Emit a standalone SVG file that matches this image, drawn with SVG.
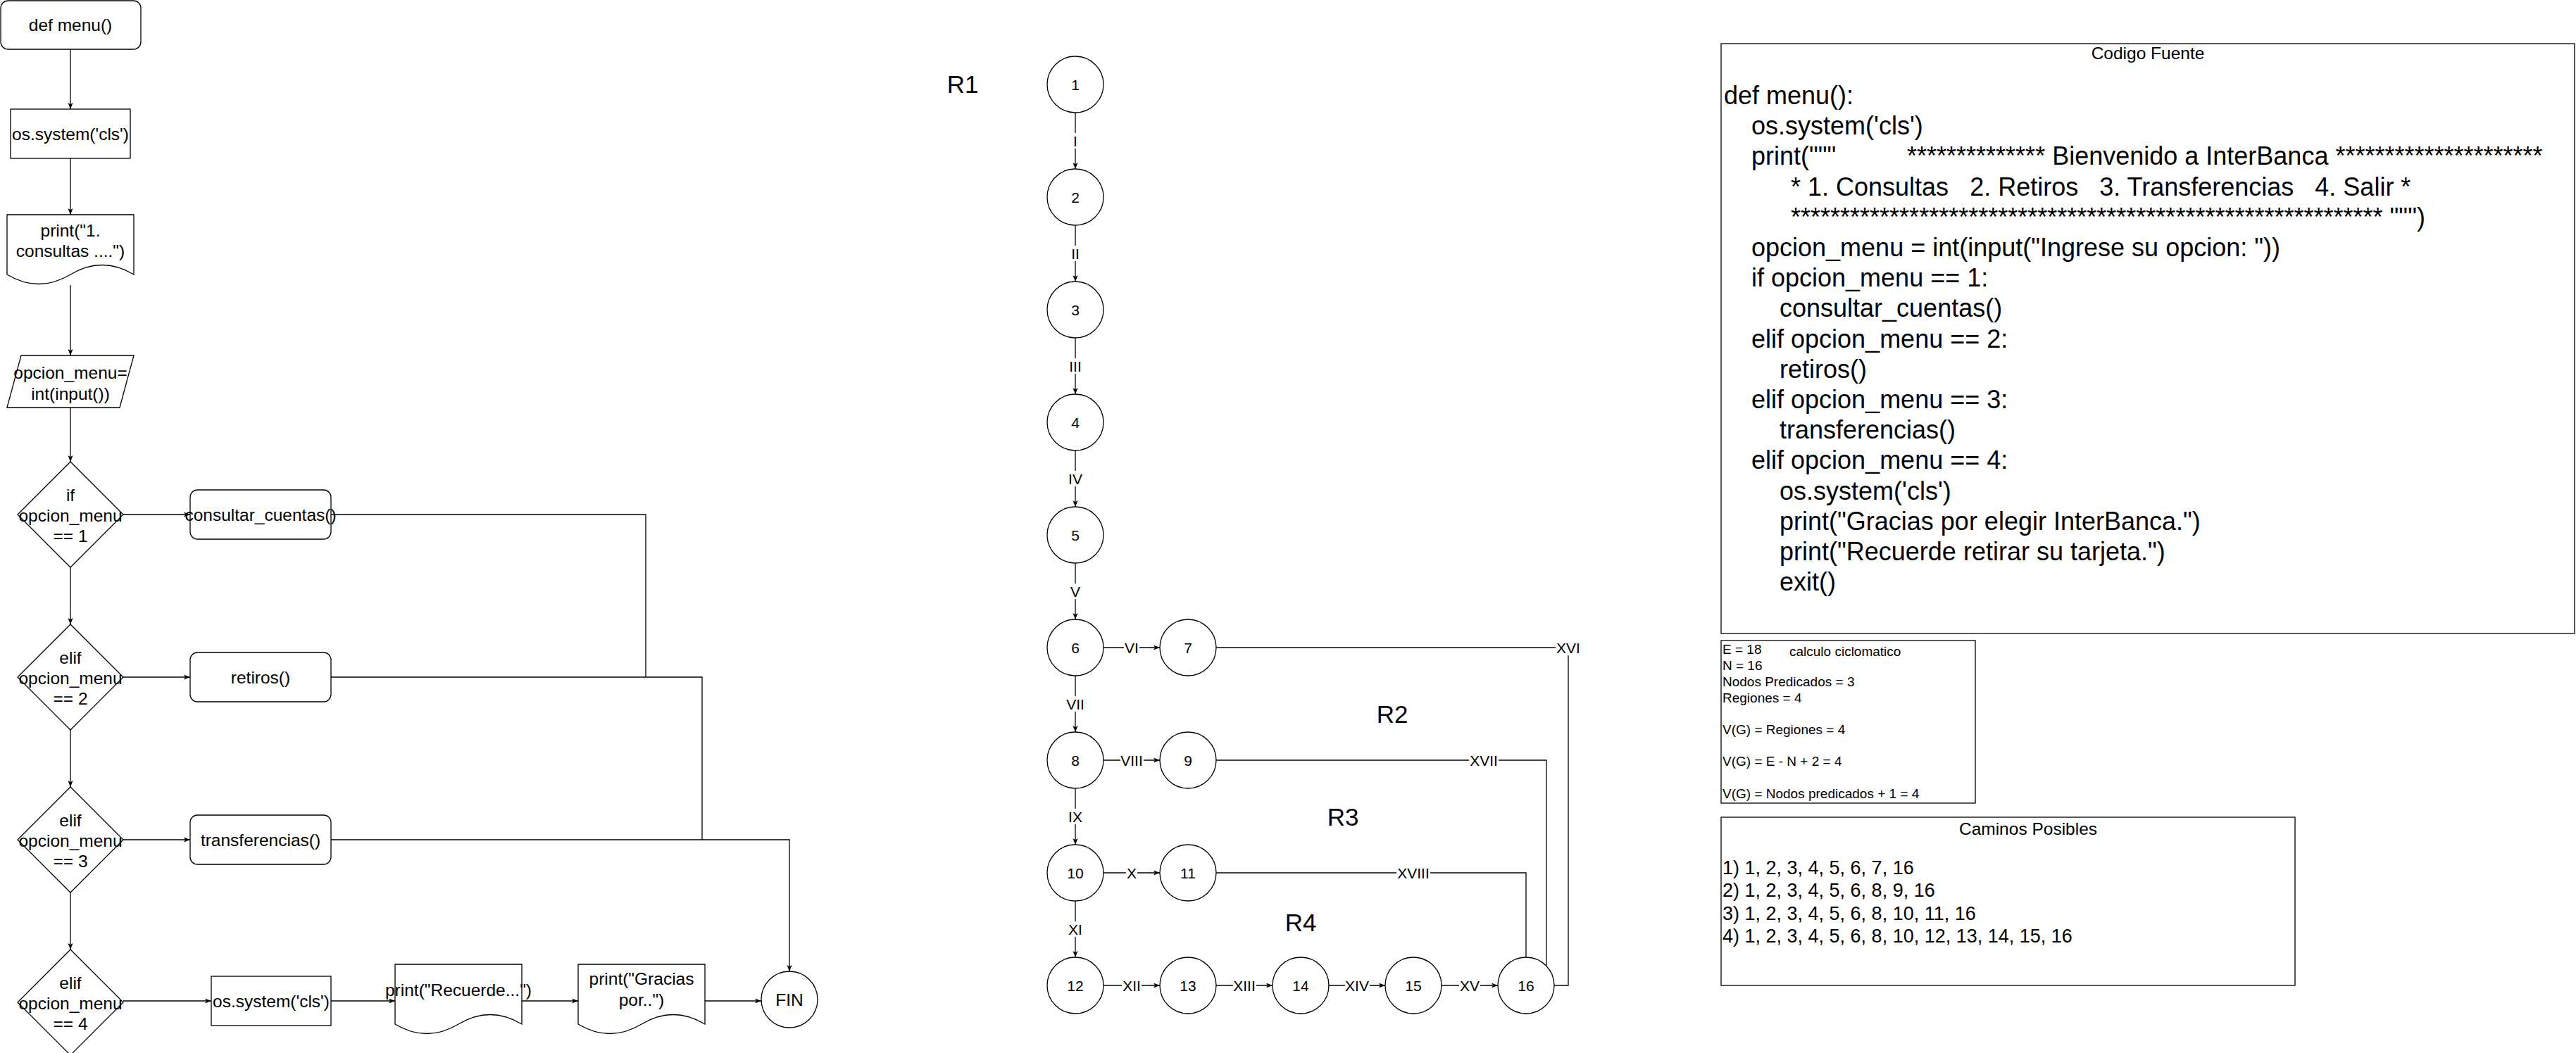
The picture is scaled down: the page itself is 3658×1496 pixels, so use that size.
<svg xmlns="http://www.w3.org/2000/svg" width="3658" height="1496" viewBox="0 0 3658 1496">
<style>
text{font-family:"Liberation Sans",Arial,sans-serif;fill:#000}
.sh{fill:#fff;stroke:#000;stroke-width:1.3}
.ln{fill:none;stroke:#000;stroke-width:1.3}
.f{font-size:24.5px;text-anchor:middle}
.g{font-size:21px;text-anchor:middle}
.r{font-size:35px;text-anchor:middle}
.code{font-size:36px}
.cy{font-size:19px}
.cam{font-size:27px}
.lb{fill:#fff;stroke:none}
</style>
<defs>
<marker id="arr" viewBox="0 0 10 8" refX="10" refY="4" markerWidth="9" markerHeight="8" markerUnits="userSpaceOnUse" orient="auto"><path d="M0,0 L10,4 L0,8 L2.5,4 z" fill="#000"/></marker>
</defs>
<rect width="3658" height="1496" fill="#fff"/>

<g id="connectors">
<path class="ln" marker-end="url(#arr)" d="M100,70 V155"/>
<path class="ln" marker-end="url(#arr)" d="M100,225 V305"/>
<path class="ln" marker-end="url(#arr)" d="M100,405 V505"/>
<path class="ln" marker-end="url(#arr)" d="M100,579 V656"/>
<path class="ln" marker-end="url(#arr)" d="M100,805 V887"/>
<path class="ln" marker-end="url(#arr)" d="M100,1036 V1118"/>
<path class="ln" marker-end="url(#arr)" d="M100,1268 V1349"/>
<path class="ln" marker-end="url(#arr)" d="M175,731 H270"/>
<path class="ln" marker-end="url(#arr)" d="M175,962 H270"/>
<path class="ln" marker-end="url(#arr)" d="M175,1193 H270"/>
<path class="ln" marker-end="url(#arr)" d="M175,1422 H300"/>
<path class="ln" marker-end="url(#arr)" d="M470,1422 H561"/>
<path class="ln" marker-end="url(#arr)" d="M741,1422 H821"/>
<path class="ln" marker-end="url(#arr)" d="M1001,1422 H1081"/>
<path class="ln" d="M470,731 H917 V962"/>
<path class="ln" d="M470,962 H997 V1193"/>
<path class="ln" marker-end="url(#arr)" d="M470,1193 H1121 V1380"/>

<path class="ln" marker-end="url(#arr)" d="M1527,160 V240"/>
<path class="ln" marker-end="url(#arr)" d="M1527,320 V400"/>
<path class="ln" marker-end="url(#arr)" d="M1527,480 V560"/>
<path class="ln" marker-end="url(#arr)" d="M1527,640 V720"/>
<path class="ln" marker-end="url(#arr)" d="M1527,800 V880"/>
<path class="ln" marker-end="url(#arr)" d="M1527,960 V1040"/>
<path class="ln" marker-end="url(#arr)" d="M1527,1120 V1200"/>
<path class="ln" marker-end="url(#arr)" d="M1527,1280 V1360"/>
<path class="ln" marker-end="url(#arr)" d="M1567,920 H1647"/>
<path class="ln" marker-end="url(#arr)" d="M1567,1080 H1647"/>
<path class="ln" marker-end="url(#arr)" d="M1567,1240 H1647"/>
<path class="ln" marker-end="url(#arr)" d="M1567,1400 H1647"/>
<path class="ln" marker-end="url(#arr)" d="M1727,1400 H1807"/>
<path class="ln" marker-end="url(#arr)" d="M1887,1400 H1967"/>
<path class="ln" marker-end="url(#arr)" d="M2047,1400 H2127"/>
<path class="ln" d="M1727,920 H2227 V1400 H2207"/>
<path class="ln" d="M1727,1080 H2196 V1372"/>
<path class="ln" d="M1727,1240 H2167 V1360"/>

<g id="edge-labels">
<rect class="lb" x="1523" y="189" width="8" height="22"/><text class="g" x="1527" y="207.5">I</text>
<rect class="lb" x="1520" y="349" width="14" height="22"/><text class="g" x="1527" y="367.5">II</text>
<rect class="lb" x="1517" y="509" width="20" height="22"/><text class="g" x="1527" y="527.5">III</text>
<rect class="lb" x="1516" y="669" width="22" height="22"/><text class="g" x="1527" y="687.5">IV</text>
<rect class="lb" x="1519" y="829" width="16" height="22"/><text class="g" x="1527" y="847.5">V</text>
<rect class="lb" x="1513" y="989" width="28" height="22"/><text class="g" x="1527" y="1007.5">VII</text>
<rect class="lb" x="1516" y="1149" width="22" height="22"/><text class="g" x="1527" y="1167.5">IX</text>
<rect class="lb" x="1516" y="1309" width="22" height="22"/><text class="g" x="1527" y="1327.5">XI</text>
<rect class="lb" x="1596" y="909" width="22" height="22"/><text class="g" x="1607" y="927.5">VI</text>
<rect class="lb" x="1591" y="1069" width="33" height="22"/><text class="g" x="1607" y="1087.5">VIII</text>
<rect class="lb" x="1599" y="1229" width="16" height="22"/><text class="g" x="1607" y="1247.5">X</text>
<rect class="lb" x="1593" y="1389" width="28" height="22"/><text class="g" x="1607" y="1407.5">XII</text>
<rect class="lb" x="1751" y="1389" width="33" height="22"/><text class="g" x="1767" y="1407.5">XIII</text>
<rect class="lb" x="1910" y="1389" width="35" height="22"/><text class="g" x="1927" y="1407.5">XIV</text>
<rect class="lb" x="2072" y="1389" width="30" height="22"/><text class="g" x="2087" y="1407.5">XV</text>
<rect class="lb" x="2209" y="909" width="36" height="22"/><text class="g" x="2227" y="927.5">XVI</text>
<rect class="lb" x="2086" y="1069" width="42" height="22"/><text class="g" x="2107" y="1087.5">XVII</text>
<rect class="lb" x="1983" y="1229" width="48" height="22"/><text class="g" x="2007" y="1247.5">XVIII</text>
</g>
</g>

<g id="def-menu"><rect class="sh" x="1" y="1" width="199" height="69" rx="10.5"/><text class="f" x="100" y="44">def menu()</text></g>
<g id="os-system-1"><rect class="sh" x="15" y="155" width="170" height="70"/><text class="f" x="100" y="199">os.system('cls')</text></g>
<g id="print-menu"><path class="sh" d="M10,305 H190 V390 Q145,363 100,390 Q55,417 10,390 Z"/><text class="f" x="100" y="336">print("1.</text><text class="f" x="100" y="365">consultas ....")</text></g>
<g id="input-opcion"><path class="sh" d="M30,505 H190 L170,579 H10 Z"/><text class="f" x="100" y="538">opcion_menu=</text><text class="f" x="100" y="568">int(input())</text></g>
<g id="if1"><path class="sh" d="M100,656 L175,731 L100,806 L25,731 Z"/><text class="f" x="100" y="712">if</text><text class="f" x="100" y="741">opcion_menu</text><text class="f" x="100" y="770">== 1</text></g>
<g id="if2"><path class="sh" d="M100,887 L175,962 L100,1037 L25,962 Z"/><text class="f" x="100" y="943">elif</text><text class="f" x="100" y="972">opcion_menu</text><text class="f" x="100" y="1001">== 2</text></g>
<g id="if3"><path class="sh" d="M100,1118 L175,1193 L100,1268 L25,1193 Z"/><text class="f" x="100" y="1174">elif</text><text class="f" x="100" y="1203">opcion_menu</text><text class="f" x="100" y="1232">== 3</text></g>
<g id="if4"><path class="sh" d="M100,1349 L175,1424 L100,1499 L25,1424 Z"/><text class="f" x="100" y="1405">elif</text><text class="f" x="100" y="1434">opcion_menu</text><text class="f" x="100" y="1463">== 4</text></g>
<g id="consultar"><rect class="sh" x="270" y="696" width="200" height="70" rx="10.5"/><text class="f" x="370" y="740">consultar_cuentas()</text></g>
<g id="retiros"><rect class="sh" x="270" y="927" width="200" height="70" rx="10.5"/><text class="f" x="370" y="971">retiros()</text></g>
<g id="transferencias"><rect class="sh" x="270" y="1158" width="200" height="70" rx="10.5"/><text class="f" x="370" y="1202">transferencias()</text></g>
<g id="os-system-2"><rect class="sh" x="300" y="1387" width="170" height="70"/><text class="f" x="385" y="1431">os.system('cls')</text></g>
<g id="print-recuerde"><path class="sh" d="M561,1370 H741 V1455 Q696,1428 651,1455 Q606,1482 561,1455 Z"/><text class="f" x="651" y="1415">print("Recuerde...")</text></g>
<g id="print-gracias"><path class="sh" d="M821,1370 H1001 V1455 Q956,1428 911,1455 Q866,1482 821,1455 Z"/><text class="f" x="911" y="1399">print("Gracias</text><text class="f" x="911" y="1429">por..")</text></g>
<g id="fin"><circle class="sh" cx="1121" cy="1420" r="40"/><text class="f" x="1121" y="1429">FIN</text></g>

<g id="n1"><circle class="sh" cx="1527" cy="120" r="40"/><text class="g" x="1527" y="127.5">1</text></g>
<g id="n2"><circle class="sh" cx="1527" cy="280" r="40"/><text class="g" x="1527" y="287.5">2</text></g>
<g id="n3"><circle class="sh" cx="1527" cy="440" r="40"/><text class="g" x="1527" y="447.5">3</text></g>
<g id="n4"><circle class="sh" cx="1527" cy="600" r="40"/><text class="g" x="1527" y="607.5">4</text></g>
<g id="n5"><circle class="sh" cx="1527" cy="760" r="40"/><text class="g" x="1527" y="767.5">5</text></g>
<g id="n6"><circle class="sh" cx="1527" cy="920" r="40"/><text class="g" x="1527" y="927.5">6</text></g>
<g id="n7"><circle class="sh" cx="1687" cy="920" r="40"/><text class="g" x="1687" y="927.5">7</text></g>
<g id="n8"><circle class="sh" cx="1527" cy="1080" r="40"/><text class="g" x="1527" y="1087.5">8</text></g>
<g id="n9"><circle class="sh" cx="1687" cy="1080" r="40"/><text class="g" x="1687" y="1087.5">9</text></g>
<g id="n10"><circle class="sh" cx="1527" cy="1240" r="40"/><text class="g" x="1527" y="1247.5">10</text></g>
<g id="n11"><circle class="sh" cx="1687" cy="1240" r="40"/><text class="g" x="1687" y="1247.5">11</text></g>
<g id="n12"><circle class="sh" cx="1527" cy="1400" r="40"/><text class="g" x="1527" y="1407.5">12</text></g>
<g id="n13"><circle class="sh" cx="1687" cy="1400" r="40"/><text class="g" x="1687" y="1407.5">13</text></g>
<g id="n14"><circle class="sh" cx="1847" cy="1400" r="40"/><text class="g" x="1847" y="1407.5">14</text></g>
<g id="n15"><circle class="sh" cx="2007" cy="1400" r="40"/><text class="g" x="2007" y="1407.5">15</text></g>
<g id="n16"><circle class="sh" cx="2167" cy="1400" r="40"/><text class="g" x="2167" y="1407.5">16</text></g>

<g id="regions">
<text class="r" x="1367" y="132">R1</text>
<text class="r" x="1977" y="1027">R2</text>
<text class="r" x="1907" y="1173">R3</text>
<text class="r" x="1847" y="1323">R4</text>
</g>

<g id="codigo-fuente">
<rect class="sh" x="2444" y="62" width="1212" height="838"/>
<text class="f" x="3050" y="83.5">Codigo Fuente</text>
<text class="code" x="2448" y="148">def menu():</text>
<text class="code" x="2487" y="191.2">os.system('cls')</text>
<text class="code" x="2487" y="234.4">print("""<tspan x="2708">************** Bienvenido a InterBanca *********************</tspan></text>
<text class="code" x="2543" y="277.6">* 1. Consultas&#160;&#160;&#160;2. Retiros&#160;&#160;&#160;3. Transferencias&#160;&#160;&#160;4. Salir *</text>
<text class="code" x="2543" y="320.8">************************************************************ """)</text>
<text class="code" x="2487" y="364">opcion_menu = int(input("Ingrese su opcion: "))</text>
<text class="code" x="2487" y="407.2">if opcion_menu == 1:</text>
<text class="code" x="2527" y="450.4">consultar_cuentas()</text>
<text class="code" x="2487" y="493.6">elif opcion_menu == 2:</text>
<text class="code" x="2527" y="536.8">retiros()</text>
<text class="code" x="2487" y="580">elif opcion_menu == 3:</text>
<text class="code" x="2527" y="623.2">transferencias()</text>
<text class="code" x="2487" y="666.4">elif opcion_menu == 4:</text>
<text class="code" x="2527" y="709.6">os.system('cls')</text>
<text class="code" x="2527" y="752.8">print("Gracias por elegir InterBanca.")</text>
<text class="code" x="2527" y="796">print("Recuerde retirar su tarjeta.")</text>
<text class="code" x="2527" y="839.2">exit()</text>
</g>

<g id="calculo-ciclomatico">
<rect class="sh" x="2444" y="910" width="361" height="231"/>
<text class="cy" x="2446" y="929">E = 18</text>
<text class="cy" x="2541" y="932">calculo ciclomatico</text>
<text class="cy" x="2446" y="952">N = 16</text>
<text class="cy" x="2446" y="975">Nodos Predicados = 3</text>
<text class="cy" x="2446" y="998">Regiones = 4</text>
<text class="cy" x="2446" y="1043">V(G) = Regiones = 4</text>
<text class="cy" x="2446" y="1088">V(G) = E - N + 2 = 4</text>
<text class="cy" x="2446" y="1134">V(G) = Nodos predicados + 1 = 4</text>
</g>

<g id="caminos-posibles">
<rect class="sh" x="2444" y="1161" width="815" height="239"/>
<text class="f" x="2880" y="1186">Caminos Posibles</text>
<text class="cam" x="2446" y="1242">1) 1, 2, 3, 4, 5, 6, 7, 16</text>
<text class="cam" x="2446" y="1274">2) 1, 2, 3, 4, 5, 6, 8, 9, 16</text>
<text class="cam" x="2446" y="1306.5">3) 1, 2, 3, 4, 5, 6, 8, 10, 11, 16</text>
<text class="cam" x="2446" y="1338.5">4) 1, 2, 3, 4, 5, 6, 8, 10, 12, 13, 14, 15, 16</text>
</g>
</svg>
